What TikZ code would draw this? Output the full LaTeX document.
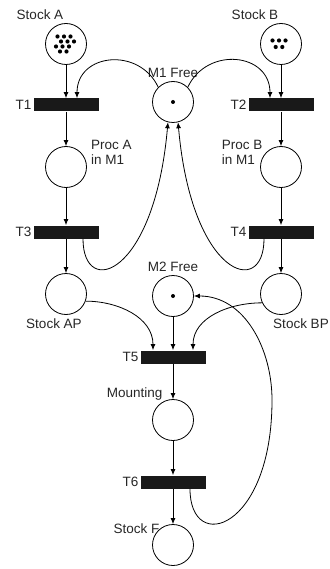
\documentclass[tikz,border=0pt]{standalone}
\usepackage{fontspec}
\setmainfont{Liberation Sans}
\usetikzlibrary{positioning,arrows.meta}

\begin{document}
\begin{tikzpicture}[>={Latex[length=6pt,width=5pt]},line width=0.8pt,on grid,
      font=\fontsize{13.5}{15}\selectfont,
      place/.style={circle,draw,minimum size=41pt,inner sep=0pt},
      trans/.style={rectangle,fill=black!90,minimum width=65pt,minimum height=13pt,inner sep=0pt},
      every label/.style={text=black!85}]
      \useasboundingbox (0,0) rectangle (329pt,-569pt);

      \node[place] (m1) at (173pt,-102pt) [label=above:M1 Free] {};
      \node[place] (sa) [above left=58pt and 107pt of m1, label={[xshift=-26pt]above:Stock A}] {};
      \node[place] (sb) [above right=58pt and 108pt of m1, label={[xshift=-26pt]above:Stock B}] {};
      \node[trans] (t1) [below=61pt of sa, label={[label distance=-2pt]left:T1}] {};
      \node[trans] (t2) [below=61pt of sb, label={[label distance=-2pt]left:T2}] {};
      \node[place] (pa) [below=62pt of t1, label={[anchor=west,align=left,xshift=6.5pt]north east:Proc A\\in M1}] {};
      \node[place] (pb) [below=62pt of t2, label={[anchor=east,align=left]north west:Proc B\\in M1}] {};
      \node[trans] (t3) [below=65pt of pa, label={[label distance=-2pt]left:T3}] {};
      \node[trans] (t4) [below=65pt of pb, label={[label distance=-2pt]left:T4}] {};
      \node[place] (sap) [below=62pt of t3, label={[xshift=-12pt]below:Stock AP}] {};
      \node[place] (sbp) [below=62pt of t4, label={[xshift=20pt]below:Stock BP}] {};
      \node[place] (m2) [below=194pt of m1, label=above:M2 Free] {};
      \node[trans] (t5) [below=61pt of m2, label={[label distance=-2pt]left:T5}] {};
      \node[place] (mnt) [below=63pt of t5, label={[xshift=8pt,yshift=1.5pt]north west:Mounting}] {};
      \node[trans] (t6) [below=62pt of mnt, label={[label distance=-2pt]left:T6}] {};
      \node[place] (sf) [below=63pt of t6, label={[xshift=5pt,yshift=-7pt]north west:Stock F}] {};
      \coordinate[above right=20pt and 99pt of mnt] (ret);

      % tokens
      \foreach \dx/\dy in {-8.5/7.5,-2/7.5,4.5/7.5,-5/2.5,1.5/2.5,8/2.5,-10/-2.5,-3.5/-2.5,3/-2.5,-6/-7.5,0.5/-7.5}
        \fill ([shift={(\dx pt,\dy pt)}]sa.center) circle (2.1pt);
      \foreach \dx/\dy in {-8.5/3.5,-2/3.5,4.5/3.5,-5.3/-3,1.3/-3}
        \fill ([shift={(\dx pt,\dy pt)}]sb.center) circle (2.1pt);
      \fill (m1.center) circle (2pt);
      \fill (m2.center) circle (2pt);

      \path[->]
        (sa) edge (t1)
        (sb) edge (t2)
        (t1) edge (pa)
        (t2) edge (pb)
        (pa) edge (t3)
        (pb) edge (t4)
        (t3) edge (sap)
        (t4) edge (sbp)
        (m1.135) edge [out=115,in=90,looseness=1.4] ([xshift=11pt]t1.north)
        (m1.45) edge [out=65,in=90,looseness=1.4] ([xshift=-11pt]t2.north)
        ([xshift=17pt]t3.south) edge [out=-90,in=-95,out distance=60pt,in distance=155pt] (m1.256)
        ([xshift=-17pt]t4.south) edge [out=-90,in=-85,out distance=60pt,in distance=155pt] (m1.284)
        (sap.-20) edge [out=0,in=90] ([xshift=-20pt]t5.north)
        (sbp.205) edge [out=180,in=90] ([xshift=20pt]t5.north)
        (m2) edge (t5)
        (t5) edge (mnt)
        (mnt) edge (t6)
        (t6) edge (sf);

      \draw[->] ([xshift=17pt]t6.south) to [out=-90,in=-90,out distance=66pt,in distance=130pt] (ret)
        to [out=90,in=0] (m2.east);
    \end{tikzpicture}
\end{document}
